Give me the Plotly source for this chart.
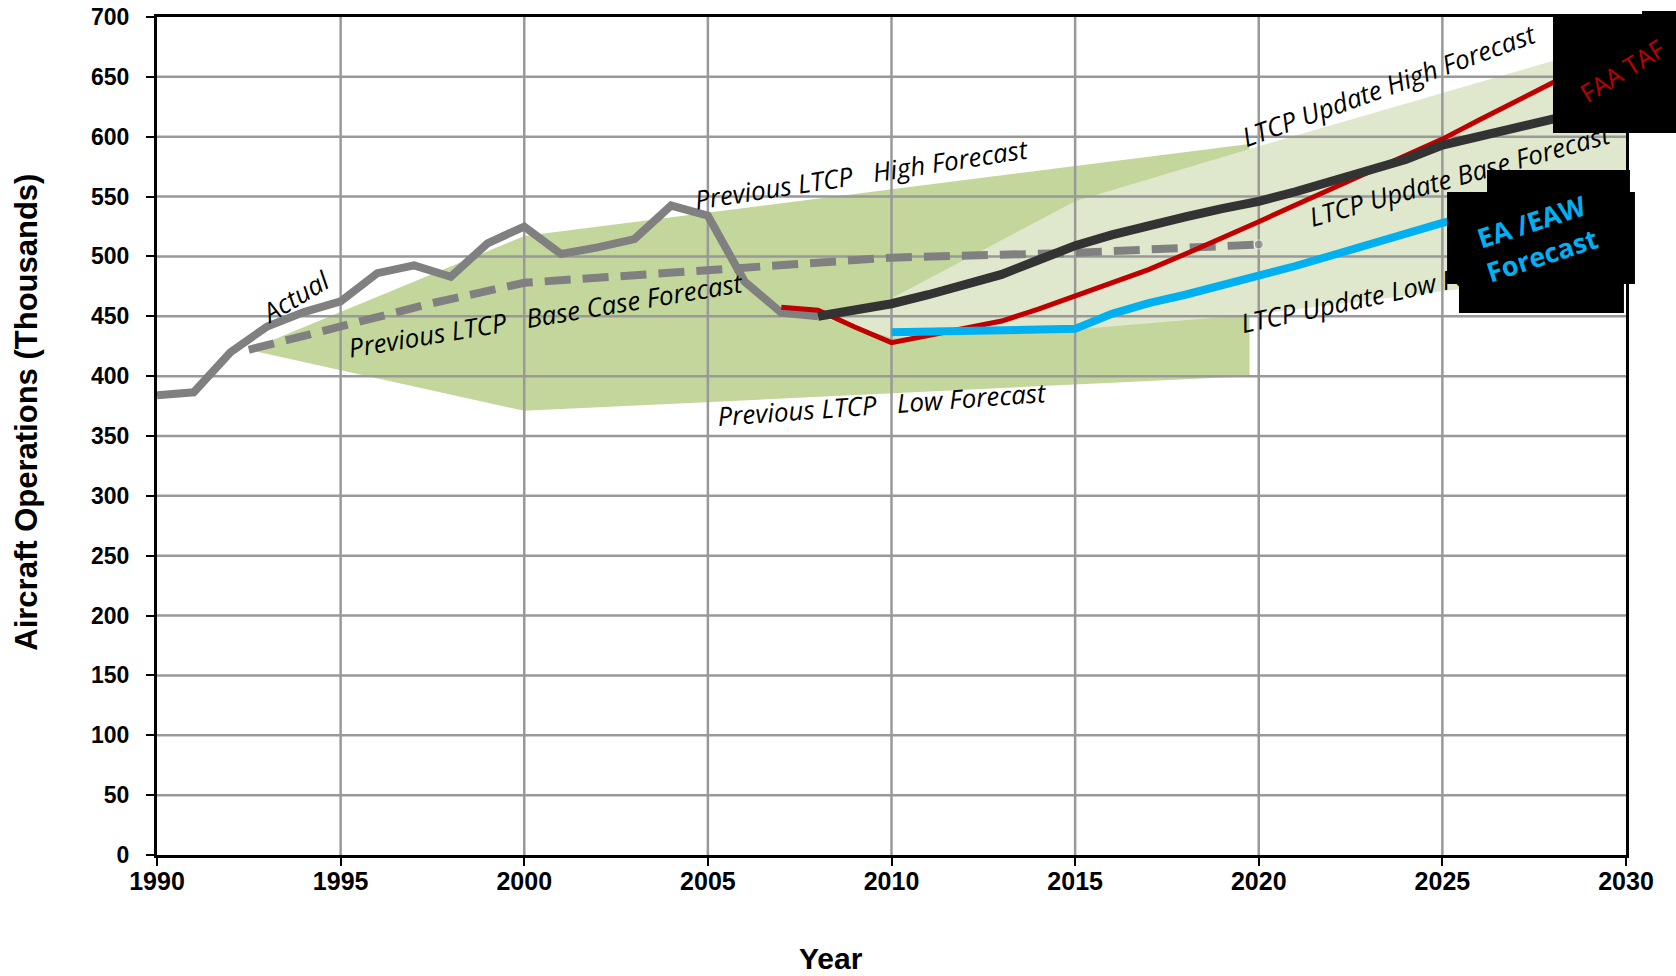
import plotly.graph_objects as go

# ---- data (aircraft operations, thousands) ----
actual_years = list(range(1990, 2009))
actual_ops = [384, 386.5, 420, 441.5, 453.5, 462.5, 486, 492.5, 483, 511,
              525, 502, 507.5, 514.5, 542.5, 534, 479, 453, 450]

prev_base_years = [1992.5, 1995, 1997.5, 2000, 2005, 2010, 2015, 2020]
prev_base_ops = [422, 442, 461, 478, 489, 499, 503, 510]

prev_band_years = [1992.5, 2000, 2019.75]
prev_high_ops = [422, 517, 594]
prev_low_ops = [422, 371, 400]

upd_band_years = [2008, 2010, 2015, 2020, 2030]
upd_high_ops = [450, 465, 546, 592, 681]
upd_low_ops = [450, 432, 439, 452, 490]

taf_years = list(range(2007, 2031))
taf_ops = [457.5, 455, 441, 428, 434, 440, 446, 456, 467, 477, 489, 502,
           515, 529, 543, 557, 570, 584, 598, 614, 630, 645, 660, 675]

upd_base_years = list(range(2008, 2031))
upd_base_ops = [450, 455, 460.5, 468, 476.5, 485, 497, 509, 518, 526, 533,
                540, 546, 554, 562.5, 571, 581, 593, 600, 607, 615, 622, 629]

eaw_years = list(range(2010, 2031))
eaw_ops = [436.7, 437.3, 437.8, 438.3, 438.9, 439.5, 452, 461, 468, 476,
           483, 492, 501, 510, 519, 528, 535, 542, 549, 556, 563]

x_ticks = list(range(1990, 2031, 5))
y_ticks = list(range(0, 701, 50))

X_RANGE = [1990, 2030]
Y_RANGE = [0, 700]

# ---- colours ----
PREV_BAND = "#c3d69b"
UPD_BAND = "#dfe8cc"
GRID = "#999999"
GRAY = "#808080"
DARK = "#333333"
RED = "#c00000"
BLUE = "#00b0f0"


def band(xs, hi, lo):
    """Closed polygon: upper edge left-to-right, lower edge right-to-left."""
    return xs + xs[::-1], hi + lo[::-1]


fig = go.Figure()

bx, by = band(prev_band_years, prev_high_ops, prev_low_ops)
fig.add_trace(go.Scatter(x=bx, y=by, fill="toself", fillcolor=PREV_BAND,
                         mode="none", hoverinfo="skip", showlegend=False))

bx, by = band(upd_band_years, upd_high_ops, upd_low_ops)
fig.add_trace(go.Scatter(x=bx, y=by, fill="toself", fillcolor=UPD_BAND,
                         mode="none", hoverinfo="skip", showlegend=False))

# gridlines sit over the shaded bands but under the series lines
gx, gy = [], []
for t in x_ticks[1:-1]:
    gx += [t, t, None]
    gy += [Y_RANGE[0], Y_RANGE[1], None]
fig.add_trace(go.Scatter(x=gx, y=gy, mode="lines", line=dict(color=GRID, width=2.5),
                         hoverinfo="skip", showlegend=False))
gx, gy = [], []
for t in y_ticks[1:-1]:
    gx += [X_RANGE[0], X_RANGE[1], None]
    gy += [t, t, None]
fig.add_trace(go.Scatter(x=gx, y=gy, mode="lines", line=dict(color=GRID, width=2.5),
                         hoverinfo="skip", showlegend=False))

# series
fig.add_trace(go.Scatter(x=prev_base_years, y=prev_base_ops, mode="lines+markers",
                         line=dict(color=GRAY, width=8, dash="26px,12px"),
                         marker=dict(color=GRAY,
                                     size=[0] * (len(prev_base_years) - 1) + [9]),
                         name="Previous LTCP Base Case Forecast", showlegend=False))
fig.add_trace(go.Scatter(x=actual_years, y=actual_ops, mode="lines",
                         line=dict(color=GRAY, width=8),
                         name="Actual", showlegend=False))
fig.add_trace(go.Scatter(x=taf_years, y=taf_ops, mode="lines",
                         line=dict(color=RED, width=5),
                         name="FAA TAF", showlegend=False))
fig.add_trace(go.Scatter(x=upd_base_years, y=upd_base_ops, mode="lines",
                         line=dict(color=DARK, width=9),
                         name="LTCP Update Base Forecast", showlegend=False))
fig.add_trace(go.Scatter(x=eaw_years, y=eaw_ops, mode="lines",
                         line=dict(color=BLUE, width=8),
                         name="EA /EAW Forecast", showlegend=False))

# ---- curve labels ----
LBL = dict(family="'Open Sans', Lato, sans-serif", size=26, color="black", style="italic")
sp = "\u00a0\u00a0\u00a0"
labels = [
    ("Actual", 1993.78, 467, -31),
    ("Previous LTCP" + sp + "Base Case Forecast", 2000.58, 451, -9.5),
    ("Previous LTCP" + sp + "High Forecast", 2009.19, 569, -8.8),
    ("Previous LTCP" + sp + "Low Forecast", 2009.75, 377, -4.2),
    ("LTCP Update High Forecast", 2023.55, 643, -19.9),
    ("LTCP Update Base Forecast", 2025.49, 568, -15.7),
    ("LTCP Update Low Forecast", 2023.55, 470, -12),
]
for txt, x, y, ang in labels:
    fig.add_annotation(x=x, y=y, xref="x", yref="y", text=txt, showarrow=False,
                       textangle=ang, font=LBL, xanchor="center", yanchor="middle")

# ---- black call-out boxes ----
boxes = [
    (0.9503, 0.8616, 1.0341, 1.0036),
    (1.0109, 0.9700, 1.0341, 1.0072),
    (0.8782, 0.6814, 1.0061, 0.7912),
    (0.9054, 0.7900, 1.0027, 0.8174),
    (0.8863, 0.6468, 0.9986, 0.6830),
]
for x0, y0, x1, y1 in boxes:
    fig.add_shape(type="rect", xref="paper", yref="paper", x0=x0, y0=y0, x1=x1, y1=y1,
                  fillcolor="black", line=dict(width=0), layer="above")

fig.add_annotation(xref="paper", yref="paper", x=0.9975, y=0.9368, text="FAA TAF",
                   showarrow=False, textangle=-32, xanchor="center", yanchor="middle",
                   font=dict(family="'Open Sans', sans-serif", size=25, color=RED))
fig.add_annotation(xref="paper", yref="paper", x=0.9394, y=0.7363,
                   text="EA /EAW<br>Forecast", showarrow=False, textangle=-18,
                   xanchor="center", yanchor="middle",
                   font=dict(family="'Open Sans', sans-serif", size=27, color=BLUE,
                             weight="bold"))

# ---- axis titles ----
fig.add_annotation(xref="paper", yref="paper", x=-0.0885, y=0.529,
                   text="Aircraft Operations (Thousands)", showarrow=False, textangle=-90,
                   xanchor="center", yanchor="middle",
                   font=dict(family="Liberation Sans, Arial, sans-serif", size=31,
                             color="black", weight="bold"))
fig.add_annotation(xref="paper", yref="paper", x=0.4586, y=-0.1239, text="Year",
                   showarrow=False, xanchor="center", yanchor="middle",
                   font=dict(family="Liberation Sans, Arial, sans-serif", size=30,
                             color="black", weight="bold"))

fig.update_xaxes(range=X_RANGE, tickvals=x_ticks, showgrid=False, zeroline=False,
                 showline=True, linecolor="black", linewidth=3, mirror=True,
                 ticks="outside", ticklen=8, tickwidth=2, tickcolor="black",
                 ticklabelstandoff=-6, automargin=False,
                 tickfont=dict(family="Liberation Sans, Arial, sans-serif",
                               size=25, color="black", weight="bold"))
fig.update_yaxes(range=Y_RANGE, tickvals=y_ticks, showgrid=False, zeroline=False,
                 showline=True, linecolor="black", linewidth=3, mirror=True,
                 ticks="outside", ticklen=8, tickwidth=2, tickcolor="black",
                 ticklabelstandoff=12, automargin=False,
                 tickfont=dict(family="Liberation Sans, Arial, sans-serif", size=23,
                               color="black", weight="bold"))

fig.update_layout(width=1676, height=976, plot_bgcolor="white", paper_bgcolor="white",
                  margin=dict(l=157, r=50, t=17, b=121), showlegend=False)

fig.write_html("out.html")
